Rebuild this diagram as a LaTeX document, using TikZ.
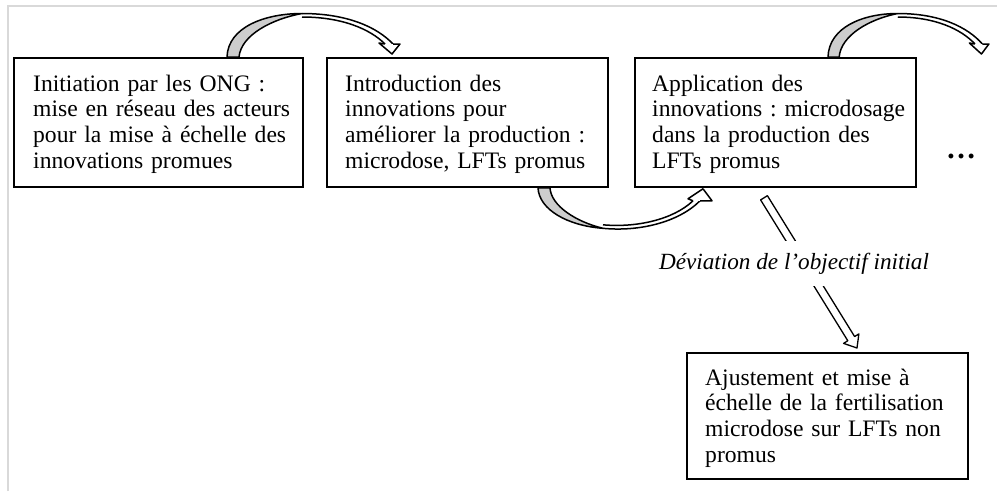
\documentclass[tikz,border=0pt]{standalone}
\usepackage{fontspec}
\setmainfont{Liberation Serif}
\usetikzlibrary{calc}
\definecolor{framegray}{RGB}{217,217,217}
\definecolor{tailgray}{RGB}{205,205,205}
\frenchspacing

\tikzset{
  box/.style={draw, line width=1.8pt, anchor=north west, inner sep=0pt},
  txt/.style={anchor=base west, align=left, inner sep=0pt, text width=285pt,
    font=\fontsize{23.6}{25.8}\selectfont},
  arrowline/.style={draw=black, line width=1.5pt, line join=round},
  % curved arrow leaving the top of a box, origin = outer foot of its tail
  overarrow/.pic={
    \path[arrowline, fill=tailgray]
      (0,0) .. controls (1,-30) and (38,-43.5) .. (75,-43.5)
      .. controls (45,-38) and (14,-22) .. (12,0) -- cycle;
    \path[arrowline] (75,-43.5) .. controls (120,-43.5) and (150,-30) .. (166,-13);
    \path[arrowline] (75,-40) .. controls (115,-40) and (143,-28) .. (158,-13);
    \path[arrowline, fill=white]
      (158,-13) -- (152,-14) -- (165,-3) -- (173,-13) -- (166,-13);
  },
  % curved arrow leaving the bottom of a box, origin = outer foot of its tail
  underarrow/.pic={
    \path[arrowline, fill=tailgray]
      (0,0) .. controls (1,22) and (30,38) .. (65,40.5)
      .. controls (38,34) and (13,18) .. (12,0) -- cycle;
    \path[arrowline] (65,40.5) .. controls (100,44) and (140,35) .. (162,13);
    \path[arrowline] (65,37) .. controls (98,40) and (135,32) .. (155,13);
    \path[arrowline, fill=white]
      (155,13) -- (150,11) -- (165,1) -- (174,13) -- (162,13);
  }
}

\begin{document}
\begin{tikzpicture}[x=1pt, y=-1pt]
\useasboundingbox (0,0) rectangle (997,491);

% page frame
\draw[framegray, line width=1.5pt] (8,491) -- (8,6) -- (997,6);

% boxes
\node[box, minimum width=289pt, minimum height=129pt] (b1) at (13,57) {};
\node[box, minimum width=281pt, minimum height=129pt] (b2) at (326,57) {};
\node[box, minimum width=281pt, minimum height=129pt] (b3) at (634,57) {};
\node[box, minimum width=281pt, minimum height=126pt] (b4) at (686,352) {};

\node[txt] (t1) at ($(b1.north west)+(20,34)$)
  {Initiation par les ONG :\\ mise en réseau des acteurs\\ pour la mise à échelle des\\ innovations promues};
\node[txt] (t2) at ($(b2.north west)+(19,34)$)
  {Introduction des\\ innovations pour\\ améliorer la production :\\ microdose, LFTs promus};
\node[txt] (t3) at ($(b3.north west)+(18,34)$)
  {Application des\\ innovations : microdosage\\ dans la production des\\ LFTs promus};
\node[txt] (t4) at ($(b4.north west)+(19,33)$)
  {Ajustement et mise à\\ échelle de la fertilisation\\ microdose sur LFTs non\\ promus};

\node[anchor=base, inner sep=0pt, font=\fontsize{30}{30}\selectfont\bfseries] (more) at (961,158) {…};

% curved arrows between the steps
\pic at ($(b1.north west)+(214,0)$) {overarrow};
\pic at ($(b2.south west)+(212,0)$) {underarrow};
\pic[xscale=0.93] at ($(b3.north west)+(194,0)$) {overarrow};

% deviation arrow
\coordinate (d1) at ($(b3.south west)+(130,10)$);
\coordinate (d2) at ($(b4.north west)+(171,-4)$);
\path[arrowline, line width=1.3pt, fill=white]
  let \p1=($(d2)-(d1)$), \n1={atan2(\y1,\x1)} in
  ($(d1)+(\n1+90:4pt)$) -- ($(d2)+(\n1+180:11pt)+(\n1+90:4pt)$)
  -- ($(d2)+(\n1+180:11pt)+(\n1+90:9pt)$) -- (d2)
  -- ($(d2)+(\n1+180:11pt)+(\n1-90:9pt)$) -- ($(d2)+(\n1+180:11pt)+(\n1-90:4pt)$)
  -- ($(d1)+(\n1-90:4pt)$) -- cycle;

\node[anchor=base, fill=white, inner xsep=2pt, inner ysep=12pt,
  font=\fontsize{23.2}{25.8}\selectfont\itshape] (dev) at (794,269)
  {Déviation de l’objectif initial};
\end{tikzpicture}
\end{document}
